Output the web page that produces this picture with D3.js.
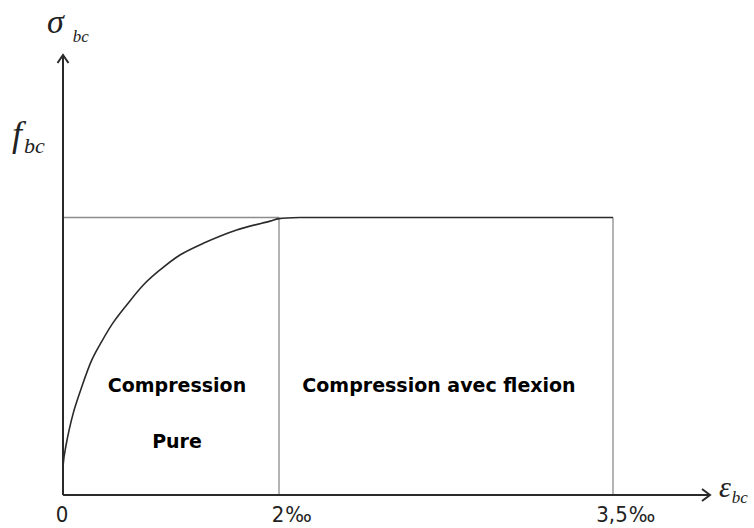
<!DOCTYPE html>
<html>
<head>
<meta charset="utf-8">
<script src="https://cdn.jsdelivr.net/npm/d3@7"></script>
<style>
  html, body { margin: 0; padding: 0; background: #fff; }
  svg { display: block; }
</style>
</head>
<body>
<svg id="chart" width="754" height="528"></svg>
<script>
// ---- data (strain in ‰, stress relative to f_bc) ----
const strain = [0, 0.003, 0.025, 0.095, 0.167, 0.266, 0.358, 0.466, 0.590, 0.744, 0.898, 1.083, 1.299, 1.608, 1.917, 2.0, 2.094, 3.5];
const stress = [0, 0.115, 0.173, 0.295, 0.382, 0.486, 0.553, 0.622, 0.685, 0.757, 0.811, 0.865, 0.907, 0.955, 0.987, 0.996, 1.0, 1.0];
const tickValues = [0, 2, 3.5];
const tickNumbers = ["0", "2", "3,5"];
const tickUnits = ["", "‰", "‰"];
const zones = [
  { from: 0, to: 2, lines: ["Compression", "Pure"] },
  { from: 2, to: 3.5, lines: ["Compression avec flexion"] }
];
const fbc = 1;

// ---- layout ----
const svg = d3.select("#chart");
const x = d3.scaleLinear().domain([0, 2, 3.5]).range([63, 279, 613]);
const y = d3.scaleLinear().domain([0, 1]).range([495, 217.5]);
const axisColor = "#2a2a2a";
const guideColor = "#8c8c8c";

// guide lines
svg.append("line")
  .attr("x1", x(0)).attr("x2", x(2)).attr("y1", y(fbc)).attr("y2", y(fbc))
  .attr("stroke", guideColor).attr("stroke-width", 1.3);
[2, 3.5].forEach(v => {
  svg.append("line")
    .attr("x1", x(v)).attr("x2", x(v)).attr("y1", y(fbc)).attr("y2", y(0))
    .attr("stroke", guideColor).attr("stroke-width", 1.3);
});

// curve: rising branch (smooth) + plateau (straight)
const pts = strain.map((s, i) => [s, stress[i]]);
const rising = pts.filter(d => d[1] < fbc).concat([pts.find(d => d[1] >= fbc)]);
const plateau = pts.filter(d => d[1] >= fbc);
svg.append("path")
  .datum(rising)
  .attr("d", d3.line().x(d => x(d[0])).y(d => y(d[1])).curve(d3.curveCatmullRom.alpha(0.5)))
  .attr("fill", "none").attr("stroke", "#2a2a2a").attr("stroke-width", 1.6);
svg.append("path")
  .datum(plateau)
  .attr("d", d3.line().x(d => x(d[0])).y(d => y(d[1])))
  .attr("fill", "none").attr("stroke", "#2a2a2a").attr("stroke-width", 1.6);

// axes
const xEnd = 710, yEnd = 55;
svg.append("line").attr("x1", x(0)).attr("x2", xEnd).attr("y1", y(0)).attr("y2", y(0))
  .attr("stroke", axisColor).attr("stroke-width", 2);
svg.append("line").attr("x1", x(0)).attr("x2", x(0)).attr("y1", y(0)).attr("y2", yEnd)
  .attr("stroke", axisColor).attr("stroke-width", 2);
// arrowheads
svg.append("path")
  .attr("d", `M${xEnd - 8},${y(0) - 6} L${xEnd},${y(0)} L${xEnd - 8},${y(0) + 6}`)
  .attr("fill", "none").attr("stroke", axisColor).attr("stroke-width", 2);
svg.append("path")
  .attr("d", `M${x(0) - 5.5},${yEnd + 8} L${x(0)},${yEnd} L${x(0) + 5.5},${yEnd + 8}`)
  .attr("fill", "none").attr("stroke", axisColor).attr("stroke-width", 2);

// tick labels: number centred on tick, unit after it
const tickFont = "'DejaVu Sans Condensed', 'DejaVu Sans', sans-serif";
tickValues.forEach((v, i) => {
  const t = svg.append("text")
    .attr("x", x(v) - 1).attr("y", 522)
    .attr("text-anchor", "middle")
    .attr("font-family", tickFont).attr("font-size", 22)
    .attr("fill", "#222")
    .text(tickNumbers[i]);
  const w = t.node().getComputedTextLength();
  if (tickUnits[i]) {
    svg.append("text")
      .attr("x", x(v) - 1 + w / 2 + 1).attr("y", 522)
      .attr("font-family", tickFont).attr("font-size", 22)
      .attr("fill", "#222")
      .text(tickUnits[i]);
  }
});

// zone labels
zones.forEach(z => {
  const cx = (x(z.from) + x(z.to)) / 2;
  z.lines.forEach((l, j) => {
    svg.append("text")
      .attr("x", cx + (z.lines.length > 1 ? 6 : -7)).attr("y", 392 + j * 56)
      .attr("text-anchor", "middle")
      .attr("font-family", "'DejaVu Sans', sans-serif")
      .attr("font-weight", "bold").attr("font-size", 19)
      .attr("fill", "#000")
      .text(l);
  });
});

// axis symbols (serif italic)
const serif = "'Liberation Serif', 'DejaVu Serif', serif";
function symbol(main, sub, xPos, yBase, mainSize, subSize, subDx, subDy) {
  const t = svg.append("text").attr("x", xPos).attr("y", yBase)
    .attr("font-family", serif).attr("font-style", "italic").attr("fill", "#222");
  t.append("tspan").attr("font-size", mainSize).text(main);
  t.append("tspan").attr("font-size", subSize).attr("dx", subDx).attr("dy", subDy).text(sub);
}
symbol("σ", "bc", 47, 33, 34, 17, 9, 9);
symbol("f", "bc", 12, 146, 36, 22, 2, 7);
symbol("ε", "bc", 719, 497, 30, 17, 1, 6);
</script>
</body>
</html>
